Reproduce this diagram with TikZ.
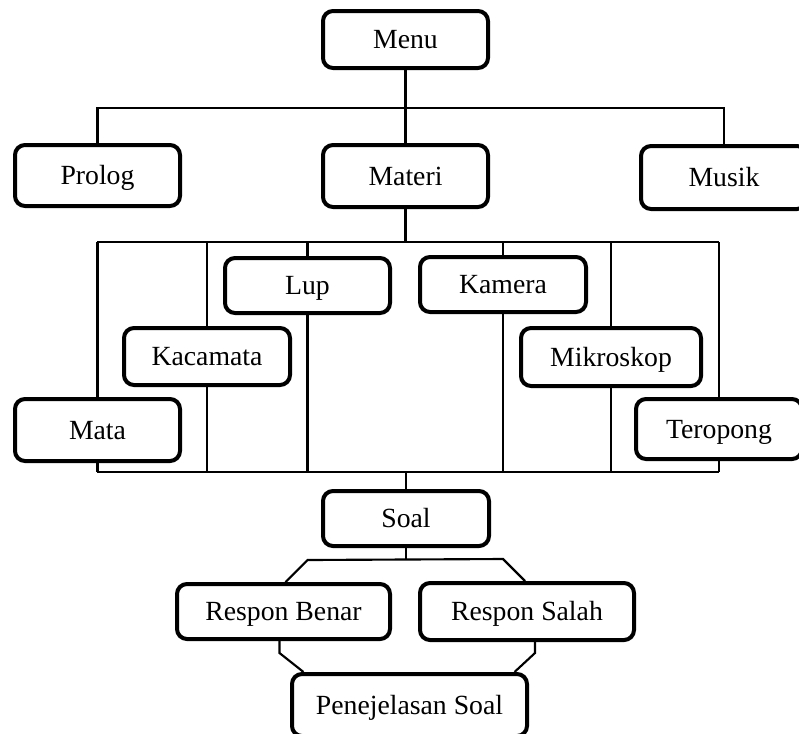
\documentclass[tikz,border=0pt]{standalone}
\usepackage{fontspec}
\setmainfont{Liberation Serif}
\usetikzlibrary{backgrounds,calc}
\begin{document}
\begin{tikzpicture}[x=0.75pt,y=-0.75pt,
  box/.style={draw=black, line width=3pt, rounded corners=7.5pt, fill=white,
    inner sep=0pt, text height=13.7pt, text depth=0pt,
    font=\fontsize{20.8}{24}\selectfont},
  sz/.style 2 args={minimum width=#1*0.75pt, minimum height=#2*0.75pt},
  conn/.style={draw=black, line width=1.6pt}]
\useasboundingbox (0,0) rectangle (799,733);
\clip (0,0) rectangle (799,733);
\node[box,sz={165}{57}] (menu) at (405.5,39.5) {Menu};
\node[box,sz={165}{61}] (prolog) at (97.5,175.5) {Prolog};
\node[box,sz={165}{62}] (materi) at (405.5,176) {Materi};
\node[box,sz={166}{63}] (musik) at (724,177.5) {Musik};
\node[box,sz={165}{55}] (lup) at (307.5,285.5) {Lup};
\node[box,sz={166}{55}] (kamera) at (503,284.5) {Kamera};
\node[box,sz={166}{57}] (kacamata) at (207,356.5) {Kacamata};
\node[box,sz={180}{58}] (mikroskop) at (611,357) {Mikroskop};
\node[box,sz={165}{62}] (mata) at (97.5,430) {Mata};
\node[box,sz={166}{60}] (teropong) at (719,429) {Teropong};
\node[box,sz={166}{55}] (soal) at (406,518.5) {Soal};
\node[box,sz={213}{55}] (benar) at (283.5,611.5) {Respon Benar};
\node[box,sz={214}{57}] (salah) at (527,611.5) {Respon Salah};
\node[box,sz={235}{62}] (penj) at (409.5,705) {Penejelasan Soal};
\coordinate (ftl) at (97,242);
\coordinate (ftr) at (719,242);
\coordinate (fbl) at (97,472);
\coordinate (fbr) at (719,472);
\begin{pgfonlayer}{background}
  % Menu branches
  \path[conn] (menu.south) -- ++(0,38) coordinate (mj);
  \path[conn] (prolog.north) |- (mj) -| (musik.north);
  \path[conn] (materi.north) -- (mj);
  % frame
  \path[conn] (materi.south) -- (materi.south |- ftl);
  \path[conn] (ftl) -- (ftr);
  \path[conn] (fbl) -- (fbr);
  \foreach \n in {mata,kacamata,lup,kamera,mikroskop} {
    \path[conn] (\n |- ftl) -- (\n |- fbl);
  }
  \path[conn] (ftr) -- (fbr);
  \path[conn] (soal.north) -- (soal.north |- fbl);
  % Soal branches
  \path[conn] (soal.south) -- ++(0,11);
  \path[conn] ($(benar.north)+(2,0)$) -- ++(22,-22) -- ($(salah.north)+(-24,-22)$) -- ($(salah.north)+(-2,0)$);
  % to Penjelasan
  \path[conn] ($(benar.south)+(-4,0)$) -- ++(0,12) -- ($(penj.north)+(-106,0)$);
  \path[conn] ($(salah.south)+(8,0)$) -- ++(0,11) -- ($(penj.north)+(105,0)$);
\end{pgfonlayer}
\end{tikzpicture}
\end{document}
